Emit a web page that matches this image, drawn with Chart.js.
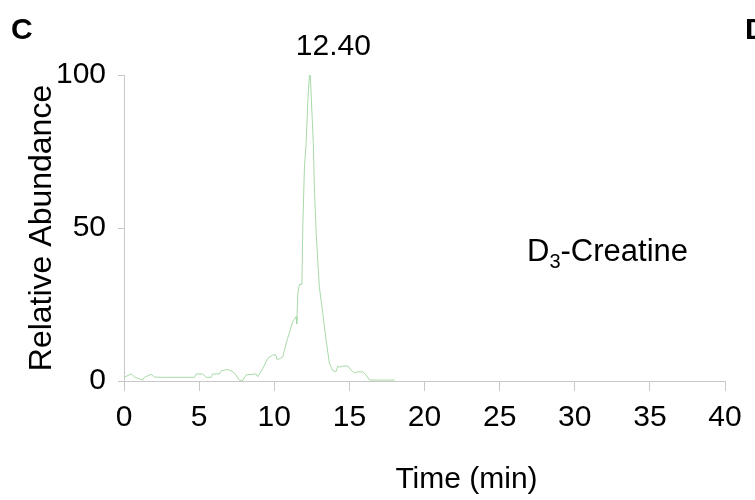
<!DOCTYPE html>
<html>
<head>
<meta charset="utf-8">
<script src="https://cdn.jsdelivr.net/npm/chart.js@4.4.1/dist/chart.umd.min.js"></script>
<style>
    html, body { margin: 0; padding: 0; background: #fff; }
    #wrap { width: 755px; height: 500px; position: relative; }
</style>
</head>
<body>
<div id="wrap"><canvas id="chart-xic"></canvas></div>
<script>
// chromatogram trace, time in min / relative abundance in %
var timeMin = [0.0, 0.48, 0.7, 1.25, 1.35, 1.81, 2.03, 2.47, 4.69, 4.8, 5.25, 5.47, 5.8, 5.9, 6.35, 6.47, 6.9, 7.25, 7.46, 7.68, 7.9, 8.13, 8.8, 8.9, 9.24, 9.57, 9.9, 10.1, 10.2, 10.57, 10.79, 11.0, 11.23, 11.45, 11.5, 11.57, 11.68, 11.84, 11.9, 12.01, 12.12, 12.23, 12.34, 12.40, 12.5, 12.6, 12.67, 12.79, 13.0, 13.23, 13.45, 13.67, 13.9, 14.12, 14.23, 14.34, 14.56, 14.9, 15.1, 15.34, 15.56, 15.9, 16.1, 16.34, 18.0];
var abundance = [1.2, 2.3, 1.3, 0.3, 1.2, 2.2, 1.3, 1.2, 1.2, 2.3, 2.3, 1.2, 1.2, 2.3, 2.3, 3.3, 3.8, 3.0, 2.0, 0.2, 0.2, 2.0, 2.3, 1.4, 4.1, 7.4, 8.5, 8.5, 6.9, 7.9, 12.3, 15.6, 19.4, 21.0, 18.7, 28.7, 31.6, 31.6, 50.4, 70.0, 77.6, 90.7, 100, 100, 88.6, 77.6, 63.5, 48.3, 30.8, 22.1, 13.4, 5.8, 3.3, 3.1, 4.9, 4.5, 4.9, 4.9, 3.6, 2.6, 3.0, 3.0, 2.0, 0.3, 0.3];

var xTicks = [0, 5, 10, 15, 20, 25, 30, 35, 40];
var yTicks = [0, 50, 100];

var peakTime = 12.40;
var compound = ['D', '3', '-Creatine'];
var xTitle = 'Time (min)';

var fontFam = 'Arial, "Liberation Sans", sans-serif';
var axisGrey = '#c8c8c8';

var points = timeMin.map(function (t, i) {
    return { x: t, y: abundance[i] };
});

// panel letters, peak label, compound name and the time axis title
var annotate = {
    id: 'annotate',
    afterDraw: function (chart) {
        var ctx = chart.ctx;
        var xs = chart.scales.x, ys = chart.scales.y;
        var area = chart.chartArea;
        ctx.save();
        ctx.fillStyle = '#000';
        ctx.textBaseline = 'alphabetic';

        ctx.font = 'bold 30px ' + fontFam;
        ctx.textAlign = 'left';
        ctx.fillText('C', 11, 39);
        ctx.fillText('D', 745, 39);

        ctx.font = '30px ' + fontFam;
        ctx.textAlign = 'center';
        ctx.fillText(peakTime.toFixed(2), xs.getPixelForValue(peakTime) + 23, ys.getPixelForValue(100) - 20);

        // x title sits a bit right of the axis centre
        ctx.fillText(xTitle, (area.left + area.right) / 2 + 42, 488);

        // D3-Creatine with subscript
        ctx.textAlign = 'left';
        var x0 = 527, base = 261;
        ctx.font = '31px ' + fontFam;
        ctx.fillText(compound[0], x0, base);
        x0 += ctx.measureText(compound[0]).width;
        ctx.font = '20px ' + fontFam;
        ctx.fillText(compound[1], x0, base + 7);
        x0 += ctx.measureText(compound[1]).width;
        ctx.font = '31px ' + fontFam;
        ctx.fillText(compound[2], x0, base);
        ctx.restore();
    }
};

var ctx = document.getElementById('chart-xic').getContext('2d');

new Chart(ctx, {
    type: 'line',
    data: {
        datasets: [{
            label: 'D3-Creatine',
            data: points,
            borderColor: '#a8d9a8',
            borderWidth: 1,
            pointRadius: 0,
            tension: 0,
            fill: false
        }]
    },
    options: {
        responsive: true,
        maintainAspectRatio: false,
        animation: false,
        devicePixelRatio: 1,
        layout: {
            padding: { top: 75, right: 30, left: 0, bottom: 0 }
        },
        plugins: {
            legend: { display: false },
            tooltip: { enabled: false }
        },
        scales: {
            x: {
                type: 'linear',
                min: 0,
                max: 40,
                afterFit: function (scale) { scale.height = 119; },
                afterBuildTicks: function (scale) {
                    scale.ticks = xTicks.map(function (v) { return { value: v }; });
                },
                grid: {
                    display: true,
                    drawOnChartArea: false,
                    drawTicks: true,
                    tickLength: 10,
                    color: axisGrey
                },
                border: { display: true, color: axisGrey, width: 1 },
                ticks: {
                    padding: 9,
                    maxRotation: 0,
                    autoSkip: false,
                    color: '#000',
                    font: { size: 30, family: fontFam }
                },
                title: { display: false }
            },
            y: {
                type: 'linear',
                min: 0,
                max: 100,
                afterFit: function (scale) { scale.width = 124; },
                afterBuildTicks: function (scale) {
                    scale.ticks = yTicks.map(function (v) { return { value: v }; });
                },
                grid: {
                    display: true,
                    drawOnChartArea: false,
                    drawTicks: true,
                    tickLength: 6,
                    color: axisGrey
                },
                border: { display: true, color: axisGrey, width: 1 },
                ticks: {
                    padding: 12,
                    color: '#000',
                    font: { size: 30, family: fontFam }
                },
                title: {
                    display: true,
                    text: 'Relative Abundance',
                    color: '#000',
                    font: { size: 32, family: fontFam },
                    padding: { top: 23, bottom: 0 }
                }
            }
        }
    },
    plugins: [annotate]
});
</script>
</body>
</html>
